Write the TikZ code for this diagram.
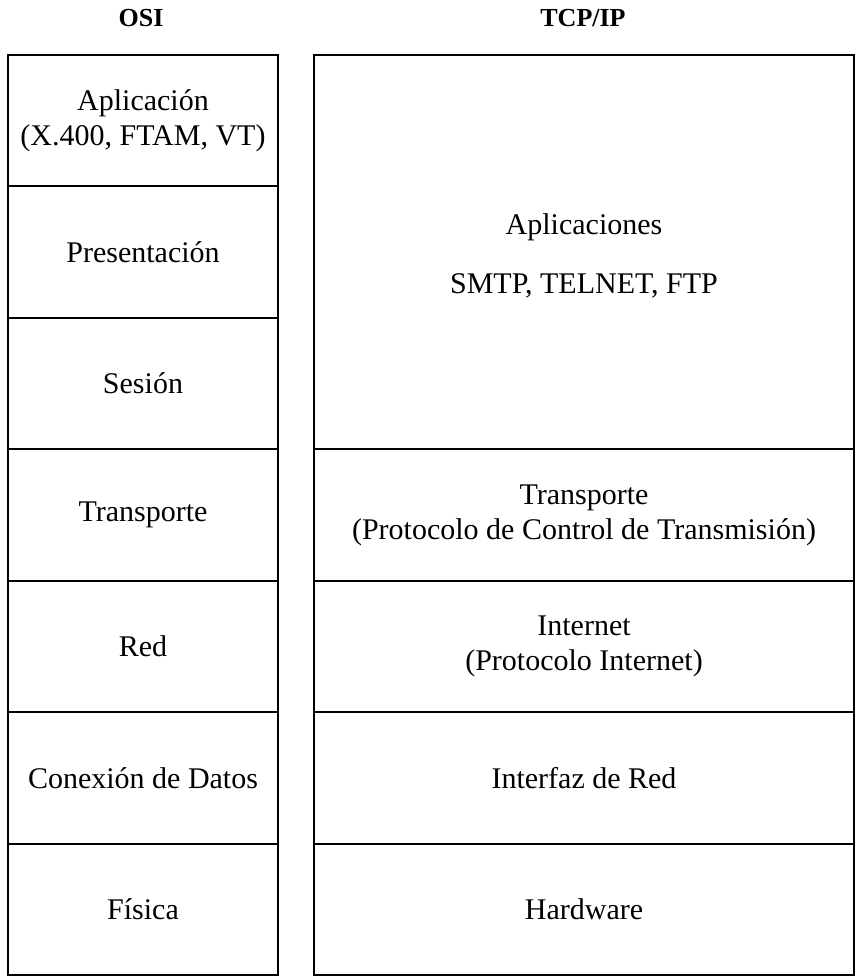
\documentclass[tikz,border=0pt]{standalone}
\usepackage{fontspec}
\setmainfont{Liberation Serif}
\usetikzlibrary{positioning}

\begin{document}
\begin{tikzpicture}[x=0.5pt,y=-0.5pt,
nodes={align=center},
layer/.style={draw,line width=1pt,inner sep=0pt,outer sep=0pt,
  minimum height=65.71pt,font=\fontsize{15}{17.5}\selectfont},
osilayer/.style={layer,minimum width=135pt},
tcplayer/.style={layer,minimum width=270pt},
title/.style={font=\fontsize{13}{15}\selectfont\bfseries}]
\useasboundingbox (0,0) rectangle (856,977);

% Titles
\node[title] (osi) at (141,18) {OSI};
\node[title] (tcp) at (583,18) {TCP/IP};

% OSI layers
\node[osilayer,anchor=north west] (apl) at (8,55) {Aplicación\\(X.400, FTAM, VT)};
\node[osilayer,below=0pt of apl] (pres) {Presentación};
\node[osilayer,below=0pt of pres] (ses) {Sesión};
\node[osilayer,below=0pt of ses] (trans) {Transporte};
\node[osilayer,below=0pt of trans] (red) {Red};
\node[osilayer,below=0pt of red] (enl) {Conexión de Datos};
\node[osilayer,below=0pt of enl] (fis) {Física};

% TCP/IP layers
\node[tcplayer,anchor=north west,minimum height=197.14pt] (apps) at (314,55)
  {\\[-3pt]Aplicaciones\\[12pt]SMTP, TELNET, FTP};
\node[tcplayer,below=0pt of apps] (tcpt) {Transporte\\(Protocolo de Control de Transmisión)};
\node[tcplayer,below=0pt of tcpt] (inet) {Internet\\(Protocolo Internet)};
\node[tcplayer,below=0pt of inet] (ifaz) {Interfaz de Red};
\node[tcplayer,below=0pt of ifaz] (hw) {Hardware};

\end{tikzpicture}
\end{document}
